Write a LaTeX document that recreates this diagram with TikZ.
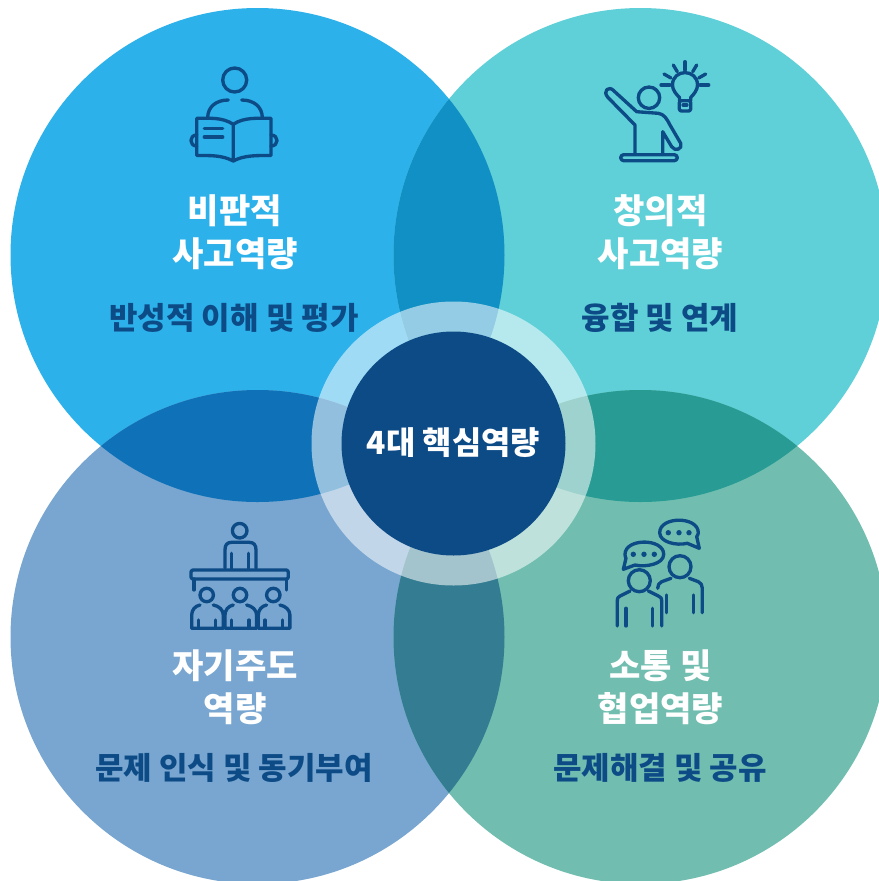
\documentclass[tikz,border=0pt]{standalone}
\usepackage{fontspec}
\setmainfont{Noto Sans CJK KR}
\definecolor{blueA}{HTML}{2CB1EA}
\definecolor{tealA}{HTML}{5FD0D8}
\definecolor{steelA}{HTML}{78A6D0}
\definecolor{greenA}{HTML}{71BEB0}
\definecolor{lensN}{HTML}{1090C4}
\definecolor{lensW}{HTML}{0F72B8}
\definecolor{lensE}{HTML}{289C94}
\definecolor{lensS}{HTML}{337C92}
\definecolor{navy}{HTML}{0D4B87}
\tikzset{
  titletext/.style={text=white,font=\fontsize{9.7}{12.2}\selectfont\bfseries,align=center,inner sep=0pt},
  subtext/.style={text=navy,font=\fontsize{8.8}{11}\selectfont\bfseries,inner sep=0pt},
  coretext/.style={text=white,font=\fontsize{9.05}{11}\selectfont\bfseries,inner sep=0pt},
  icon/.style={draw=navy,line width=0.95pt,line cap=round,line join=round,fill=none}
}
\begin{document}
\begin{tikzpicture}[x=0.01cm,y=-0.01cm]
  \useasboundingbox (0,0) rectangle (879,881);
  \coordinate (TL) at (257.5,255);
  \coordinate (TR) at (640.5,255);
  \coordinate (BL) at (257.5,637);
  \coordinate (BR) at (640.5,637);
  \coordinate (C) at (453.5,443.5);

  % four big circles
  \fill[blueA] (TL) circle (247);
  \fill[tealA] (TR) circle (247);
  \fill[steelA] (BL) circle (247);
  \fill[greenA] (BR) circle (247);

  % overlaps
  \begin{scope}
    \clip (TL) circle (247);
    \fill[lensN] (TR) circle (247);
    \fill[lensW] (BL) circle (247);
  \end{scope}
  \begin{scope}
    \clip (BR) circle (247);
    \fill[lensE] (TR) circle (247);
    \fill[lensS] (BL) circle (247);
  \end{scope}

  % centre
  \fill[white,fill opacity=0.55] (C) circle (142);
  \fill[navy] (C) circle (112);
  \node[coretext] (core) at (453.5,443) {4대 핵심역량};

  % labels
  \node[titletext] (title_TL) at (235,232) {비판적\\사고역량};
  \node[subtext] (sub_TL) at (234,318) {반성적 이해 및 평가};
  \node[titletext] (title_TR) at (660.5,232) {창의적\\사고역량};
  \node[subtext] (sub_TR) at (660,318) {융합 및 연계};
  \node[titletext] (title_BL) at (235,687) {자기주도\\역량};
  \node[subtext] (sub_BL) at (234,768) {문제 인식 및 동기부여};
  \node[titletext] (title_BR) at (660.5,687) {소통 및\\협업역량};
  \node[subtext] (sub_BR) at (660,768) {문제해결 및 공유};

  % reader
  \draw[icon] (234.7,80) circle (12);
  \draw[icon] (228.3,100) .. controls (216,100) and (207.7,107) .. (207.7,117.7);
  \draw[icon] (241.7,100) .. controls (254,100) and (262.3,107) .. (262.3,117.7);
  \draw[icon] (233.3,124.3) .. controls (222,117) and (210,118.3) .. (196.7,118.3) -- (196.7,155.5)
    .. controls (210,155.5) and (222,155) .. (233.3,161) .. controls (244,155) and (258,155.5) .. (271,155.5)
    -- (271,118.3) .. controls (258,118.3) and (244,117) .. (233.3,124.3) -- (233.3,161);
  \draw[icon] (204.3,128.3) -- (222.7,128.3);
  \draw[icon] (204.3,137) -- (222.7,137);
  \draw[icon] (196.7,135) .. controls (189,135) and (189,146) .. (196.7,146);
  \draw[icon] (271,135) .. controls (279,135) and (279,146) .. (271,146);

  % raised hand
  \draw[icon] (649,97.7) circle (10.7);
  \draw[icon] (635,153.3) -- (635,125) -- (608,97.5) .. controls (602,91) and (609,85) .. (614,91)
    -- (636.7,111.7) -- (658.3,113.3) .. controls (664,114) and (667,119) .. (670,125) -- (680.7,143.3)
    .. controls (683,149) and (675,152) .. (671.7,146.7) -- (662.7,131.7) -- (662.7,153.3);
  \draw[icon,rounded corners=0.85pt] (620.7,154.7) rectangle (677.3,160.7);
  \draw[icon] (679.5,100.7) -- (679.5,97.5) .. controls (676,94) and (672.5,90) .. (672.5,85)
    .. controls (672.5,68.5) and (697.5,68.5) .. (697.5,85) .. controls (697.5,90) and (694,94) .. (690.7,97.5) -- (690.7,100.7);
  \draw[icon,rounded corners=0.6pt] (679.3,100.7) rectangle (690.7,111);
  \draw[icon] (683,105) -- (687,105);
  \draw[icon] (685,61.7) -- (685,70);
  \draw[icon] (673.3,65) -- (677.3,71.7);
  \draw[icon] (696.7,65) -- (692.7,71.7);
  \draw[icon] (664,74) -- (671,78);
  \draw[icon] (705.7,74) -- (698.7,78);
  \draw[icon] (661,85) -- (670,85);
  \draw[icon] (700,85) -- (708.7,85);

  % classroom
  \draw[icon] (239.7,530.7) circle (7.3);
  \draw[icon] (225,568.3) -- (225,550) .. controls (225,545) and (227,542.3) .. (231.7,542.3) -- (249,542.3)
    .. controls (254,542.3) and (256,545) .. (256,550) -- (256,568.3);
  \draw[icon] (231.7,553.3) -- (231.7,568.3);
  \draw[icon] (248.3,553.3) -- (248.3,568.3);
  \draw[icon,rounded corners=0.6pt] (191,570) rectangle (288.3,579);
  \draw[icon] (194,579) -- (194,590);
  \draw[icon] (286.7,579) -- (286.7,590);
  \foreach \sx in {0,33.3,66.6} {
    \draw[icon] (206.7+\sx,595) circle (6.7);
    \draw[icon] (200+\sx,605) .. controls (195+\sx,606) and (191.7+\sx,610) .. (191.7+\sx,615)
      -- (191.7+\sx,628.3) -- (223.3+\sx,628.3) -- (223.3+\sx,615)
      .. controls (223.3+\sx,610) and (219+\sx,606) .. (213.3+\sx,605);
    \draw[icon] (198.3+\sx,620) -- (198.3+\sx,628);
    \draw[icon] (215.7+\sx,620) -- (215.7+\sx,628);
  }

  % talking people
  \draw[icon] (687.3,543.3) .. controls (676,546) and (659.7,542) .. (659.7,532.7)
    .. controls (659.7,516) and (698.3,516) .. (698.3,532.7) .. controls (698.3,534) and (697.5,535.5) .. (696.7,536.7)
    -- (699.3,548.3) -- cycle;
  \draw[icon] (635,565) .. controls (646,567.5) and (663.7,564) .. (663.7,554.3)
    .. controls (663.7,538) and (625,538) .. (625,554.3) .. controls (625,556) and (625.5,557.5) .. (626,558.3)
    -- (623.3,569.3) -- cycle;
  \foreach \dx in {668.3,679,689} \fill[navy] (\dx,532.7) circle (2.7);
  \foreach \dx in {633.3,644,654.3} \fill[navy] (\dx,554.3) circle (2.7);
  \draw[icon] (639.3,580.7) circle (11);
  \draw[icon] (617.3,626) -- (617.3,601.7) .. controls (617.3,598) and (618,597) .. (620,596) -- (630,591);
  \draw[icon] (661.7,626) -- (661.7,601.7) .. controls (661.7,598) and (661,597) .. (658.3,596) -- (648.3,591);
  \draw[icon] (626,608.3) -- (626,626);
  \draw[icon] (652.7,608.3) -- (652.7,626);
  \draw[icon] (680,566.7) circle (11);
  \draw[icon] (671,578.3) -- (661.7,581.7) .. controls (659,583) and (657.7,585) .. (657.7,588.3);
  \draw[icon] (689.3,578.3) -- (698.3,581.7) .. controls (701,583) and (702.3,585) .. (702.3,588.3) -- (702.3,612.7);
  \draw[icon] (666.7,595) -- (666.7,612.7);
  \draw[icon] (693.7,595) -- (693.7,612.7);
\end{tikzpicture}
\end{document}
